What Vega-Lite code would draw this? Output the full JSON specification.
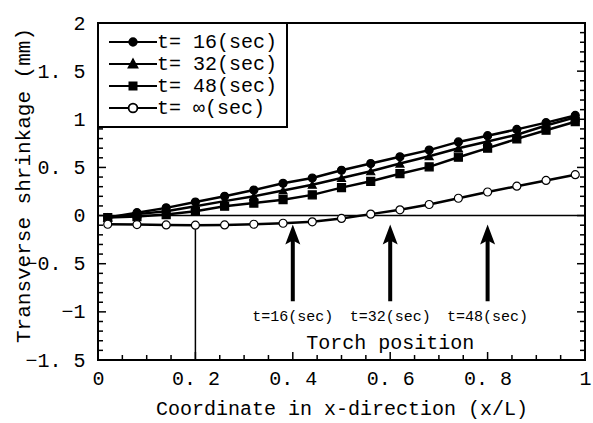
{
  "$schema": "https://vega.github.io/schema/vega-lite/v6.json",
  "width": 487,
  "height": 337,
  "autosize": "none",
  "padding": {"left": 98, "top": 23, "right": 8, "bottom": 63},
  "background": "white",
  "config": {
    "view": {"stroke": "black", "strokeWidth": 2},
    "font": "Liberation Mono",
    "text": {"font": "Liberation Mono", "color": "black"},
    "axis": {"domain": false, "grid": false, "labelColor": "black", "titleColor": "black"}
  },
  "datasets": {
    "curves": [
      {"x": 0.02, "y": -0.02, "s": "t= 16(sec)"}, {"x": 0.08, "y": 0.03, "s": "t= 16(sec)"}, {"x": 0.14, "y": 0.08, "s": "t= 16(sec)"}, {"x": 0.2, "y": 0.14, "s": "t= 16(sec)"}, {"x": 0.26, "y": 0.2, "s": "t= 16(sec)"}, {"x": 0.32, "y": 0.265, "s": "t= 16(sec)"}, {"x": 0.38, "y": 0.335, "s": "t= 16(sec)"}, {"x": 0.44, "y": 0.39, "s": "t= 16(sec)"}, {"x": 0.5, "y": 0.47, "s": "t= 16(sec)"}, {"x": 0.56, "y": 0.54, "s": "t= 16(sec)"}, {"x": 0.62, "y": 0.61, "s": "t= 16(sec)"}, {"x": 0.68, "y": 0.68, "s": "t= 16(sec)"}, {"x": 0.74, "y": 0.765, "s": "t= 16(sec)"}, {"x": 0.8, "y": 0.83, "s": "t= 16(sec)"}, {"x": 0.86, "y": 0.895, "s": "t= 16(sec)"}, {"x": 0.92, "y": 0.965, "s": "t= 16(sec)"}, {"x": 0.98, "y": 1.04, "s": "t= 16(sec)"},
      {"x": 0.02, "y": -0.02, "s": "t= 32(sec)"}, {"x": 0.08, "y": 0.015, "s": "t= 32(sec)"}, {"x": 0.14, "y": 0.045, "s": "t= 32(sec)"}, {"x": 0.2, "y": 0.097, "s": "t= 32(sec)"}, {"x": 0.26, "y": 0.15, "s": "t= 32(sec)"}, {"x": 0.32, "y": 0.2, "s": "t= 32(sec)"}, {"x": 0.38, "y": 0.26, "s": "t= 32(sec)"}, {"x": 0.44, "y": 0.32, "s": "t= 32(sec)"}, {"x": 0.5, "y": 0.39, "s": "t= 32(sec)"}, {"x": 0.56, "y": 0.46, "s": "t= 32(sec)"}, {"x": 0.62, "y": 0.54, "s": "t= 32(sec)"}, {"x": 0.68, "y": 0.616, "s": "t= 32(sec)"}, {"x": 0.74, "y": 0.7, "s": "t= 32(sec)"}, {"x": 0.8, "y": 0.77, "s": "t= 32(sec)"}, {"x": 0.86, "y": 0.84, "s": "t= 32(sec)"}, {"x": 0.92, "y": 0.935, "s": "t= 32(sec)"}, {"x": 0.98, "y": 1.02, "s": "t= 32(sec)"},
      {"x": 0.02, "y": -0.02, "s": "t= 48(sec)"}, {"x": 0.08, "y": -0.01, "s": "t= 48(sec)"}, {"x": 0.14, "y": 0.01, "s": "t= 48(sec)"}, {"x": 0.2, "y": 0.045, "s": "t= 48(sec)"}, {"x": 0.26, "y": 0.097, "s": "t= 48(sec)"}, {"x": 0.32, "y": 0.13, "s": "t= 48(sec)"}, {"x": 0.38, "y": 0.165, "s": "t= 48(sec)"}, {"x": 0.44, "y": 0.215, "s": "t= 48(sec)"}, {"x": 0.5, "y": 0.29, "s": "t= 48(sec)"}, {"x": 0.56, "y": 0.356, "s": "t= 48(sec)"}, {"x": 0.62, "y": 0.435, "s": "t= 48(sec)"}, {"x": 0.68, "y": 0.506, "s": "t= 48(sec)"}, {"x": 0.74, "y": 0.606, "s": "t= 48(sec)"}, {"x": 0.8, "y": 0.7, "s": "t= 48(sec)"}, {"x": 0.86, "y": 0.796, "s": "t= 48(sec)"}, {"x": 0.92, "y": 0.886, "s": "t= 48(sec)"}, {"x": 0.98, "y": 0.975, "s": "t= 48(sec)"},
      {"x": 0.02, "y": -0.09, "s": "t= ∞(sec)"}, {"x": 0.08, "y": -0.093, "s": "t= ∞(sec)"}, {"x": 0.14, "y": -0.097, "s": "t= ∞(sec)"}, {"x": 0.2, "y": -0.1, "s": "t= ∞(sec)"}, {"x": 0.26, "y": -0.097, "s": "t= ∞(sec)"}, {"x": 0.32, "y": -0.09, "s": "t= ∞(sec)"}, {"x": 0.38, "y": -0.08, "s": "t= ∞(sec)"}, {"x": 0.44, "y": -0.065, "s": "t= ∞(sec)"}, {"x": 0.5, "y": -0.03, "s": "t= ∞(sec)"}, {"x": 0.56, "y": 0.015, "s": "t= ∞(sec)"}, {"x": 0.62, "y": 0.06, "s": "t= ∞(sec)"}, {"x": 0.68, "y": 0.115, "s": "t= ∞(sec)"}, {"x": 0.74, "y": 0.18, "s": "t= ∞(sec)"}, {"x": 0.8, "y": 0.245, "s": "t= ∞(sec)"}, {"x": 0.86, "y": 0.305, "s": "t= ∞(sec)"}, {"x": 0.92, "y": 0.365, "s": "t= ∞(sec)"}, {"x": 0.98, "y": 0.425, "s": "t= ∞(sec)"}
    ],
    "torch": [
      {"x": 0.4, "tip": -0.093, "neck": -0.19, "tail": -0.89, "label": "t=16(sec)"},
      {"x": 0.6, "tip": -0.093, "neck": -0.19, "tail": -0.89, "label": "t=32(sec)"},
      {"x": 0.8, "tip": -0.093, "neck": -0.19, "tail": -0.89, "label": "t=48(sec)"}
    ],
    "notes": [
      {"x": 0.6, "y": -1.32, "text": "Torch position"}
    ],
    "guide": [
      {"x": 0.2, "y": -0.1, "y2": -1.5}
    ],
    "xminor": [{"v": 0.05}, {"v": 0.1}, {"v": 0.15}, {"v": 0.25}, {"v": 0.3}, {"v": 0.35}, {"v": 0.45}, {"v": 0.5}, {"v": 0.55}, {"v": 0.65}, {"v": 0.7}, {"v": 0.75}, {"v": 0.85}, {"v": 0.9}, {"v": 0.95}],
    "xmajor": [{"v": 0.2}, {"v": 0.4}, {"v": 0.6}, {"v": 0.8}],
    "yminor": [{"v": -1.4}, {"v": -1.3}, {"v": -1.2}, {"v": -1.1}, {"v": -0.9}, {"v": -0.8}, {"v": -0.7}, {"v": -0.6}, {"v": -0.4}, {"v": -0.3}, {"v": -0.2}, {"v": -0.1}, {"v": 0.1}, {"v": 0.2}, {"v": 0.3}, {"v": 0.4}, {"v": 0.6}, {"v": 0.7}, {"v": 0.8}, {"v": 0.9}, {"v": 1.1}, {"v": 1.2}, {"v": 1.3}, {"v": 1.4}, {"v": 1.6}, {"v": 1.7}, {"v": 1.8}, {"v": 1.9}],
    "ymajor": [{"v": -1}, {"v": -0.5}, {"v": 0}, {"v": 0.5}, {"v": 1}, {"v": 1.5}]
  },
  "layer": [
    {
      "data": {"name": "curves"},
      "mark": {"type": "line", "color": "black", "strokeWidth": 2.5},
      "encoding": {
        "x": {"field": "x", "type": "quantitative",
          "scale": {"domain": [0, 1], "nice": false, "zero": false},
          "axis": {
            "orient": "bottom",
            "values": [0,0.2,0.4,0.6,0.8,1],
            "ticks": false,
            "labelExpr": "replace(format(datum.value, '~g'), '.', '. ')",
            "labelFlush": false, "labelOverlap": false,
            "labelPadding": 8, "labelFont": "Liberation Mono", "labelFontSize": 20,
            "title": "Coordinate in x-direction (x/L)",
            "titleFont": "Liberation Mono", "titleFontSize": 20, "titleFontWeight": "normal",
            "titleY": 54, "titleBaseline": "alphabetic"
          }
        },
        "y": {"field": "y", "type": "quantitative",
          "scale": {"domain": [-1.5, 2], "nice": false, "zero": false},
          "axis": {
            "orient": "left",
            "values": [-1.5,-1,-0.5,0,0.5,1,1.5,2],
            "ticks": false,
            "labelExpr": "replace(format(datum.value, '~g'), '.', '. ')",
            "labelFlush": false, "labelOverlap": false,
            "labelPadding": 13, "labelFont": "Liberation Mono", "labelFontSize": 20,
            "title": "Transverse shrinkage (mm)",
            "titleFont": "Liberation Mono", "titleFontSize": 21, "titleFontWeight": "normal",
            "titleX": -75, "titleY": 162, "titleBaseline": "middle"
          }
        },
        "detail": {"field": "s"}
      }
    },
    {
      "data": {"name": "guide"},
      "mark": {"type": "rule", "color": "black", "strokeWidth": 1.5},
      "encoding": {
        "y": {"datum": 0, "type": "quantitative"}
      }
    },
    {
      "data": {"name": "guide"},
      "mark": {"type": "rule", "color": "black", "strokeWidth": 1.5},
      "encoding": {
        "x": {"field": "x", "type": "quantitative"},
        "y": {"field": "y", "type": "quantitative"},
        "y2": {"field": "y2"}
      }
    },
    {
      "data": {"name": "xminor"},
      "mark": {"type": "tick", "orient": "vertical", "color": "black", "size": 5, "thickness": 1.5, "yOffset": -2.5, "opacity": 1},
      "encoding": {
        "x": {"field": "v", "type": "quantitative"},
        "y": {"datum": -1.5, "type": "quantitative"}
      }
    },
    {
      "data": {"name": "xmajor"},
      "mark": {"type": "tick", "orient": "vertical", "color": "black", "size": 8, "thickness": 1.5, "yOffset": -4, "opacity": 1},
      "encoding": {
        "x": {"field": "v", "type": "quantitative"},
        "y": {"datum": -1.5, "type": "quantitative"}
      }
    },
    {
      "data": {"name": "yminor"},
      "mark": {"type": "tick", "orient": "horizontal", "color": "black", "size": 5, "thickness": 1.5, "xOffset": 2.5, "opacity": 1},
      "encoding": {
        "y": {"field": "v", "type": "quantitative"},
        "x": {"datum": 0, "type": "quantitative"}
      }
    },
    {
      "data": {"name": "ymajor"},
      "mark": {"type": "tick", "orient": "horizontal", "color": "black", "size": 8, "thickness": 1.5, "xOffset": 4, "opacity": 1},
      "encoding": {
        "y": {"field": "v", "type": "quantitative"},
        "x": {"datum": 0, "type": "quantitative"}
      }
    },
    {
      "data": {"name": "yminor"},
      "mark": {"type": "tick", "orient": "horizontal", "color": "black", "size": 5, "thickness": 1.5, "xOffset": -2.5, "opacity": 1},
      "encoding": {
        "y": {"field": "v", "type": "quantitative"},
        "x": {"datum": 1, "type": "quantitative"}
      }
    },
    {
      "data": {"name": "ymajor"},
      "mark": {"type": "tick", "orient": "horizontal", "color": "black", "size": 8, "thickness": 1.5, "xOffset": -4, "opacity": 1},
      "encoding": {
        "y": {"field": "v", "type": "quantitative"},
        "x": {"datum": 1, "type": "quantitative"}
      }
    },
    {
      "data": {"name": "curves"},
      "mark": {"type": "point", "filled": true, "size": 64, "stroke": "black", "strokeWidth": 1.2, "opacity": 1},
      "encoding": {
        "x": {"field": "x", "type": "quantitative"},
        "y": {"field": "y", "type": "quantitative"},
        "shape": {"field": "s", "type": "nominal", "legend": null,
          "scale": {"domain": ["t= 16(sec)", "t= 32(sec)", "t= 48(sec)", "t= ∞(sec)"], "range": ["circle", "triangle-up", "square", "circle"]}},
        "fill": {"field": "s", "type": "nominal", "legend": null,
          "scale": {"domain": ["t= 16(sec)", "t= 32(sec)", "t= 48(sec)", "t= ∞(sec)"], "range": ["black", "black", "black", "white"]}}
      }
    },
    {
      "data": {"name": "curves"},
      "mark": {"type": "point", "filled": true, "opacity": 0, "stroke": "black", "strokeWidth": 2},
      "encoding": {
        "x": {"field": "x", "type": "quantitative"},
        "y": {"field": "y", "type": "quantitative"},
        "shape": {"field": "s", "type": "nominal",
          "scale": {"domain": ["t= 16(sec)", "t= 32(sec)", "t= 48(sec)", "t= ∞(sec)"],
            "range": [
              "M-6,0H6M0.95,0A0.95,0.95,0,1,1,-0.95,0A0.95,0.95,0,1,1,0.95,0Z",
              "M-6,0H6M0,-1.15L1.1,0.9L-1.1,0.9Z",
              "M-6,0H6M-0.9,-0.9H0.9V0.9H-0.9Z",
              "M-6,0H-1.1M1.1,0H6M1.1,0A1.1,1.1,0,1,1,-1.1,0A1.1,1.1,0,1,1,1.1,0Z"
            ]},
          "legend": {
            "title": null, "orient": "top-left", "offset": 0, "padding": 9,
            "fillColor": "white", "strokeColor": "black",
            "symbolSize": 64, "symbolOffset": 16, "labelOffset": 14, "rowPadding": 2,
            "labelFont": "Liberation Mono", "labelFontSize": 20, "labelColor": "black", "labelLimit": 300,
            "symbolStrokeWidth": 1.8, "symbolStrokeColor": "black",
            "encode": {
              "legend": {"update": {"strokeWidth": {"value": 2}}},
              "symbols": {"update": {"opacity": {"value": 1}, "stroke": {"value": "black"}, "strokeWidth": {"value": 1.8}}}
            }
          }
        },
        "fill": {"field": "s", "type": "nominal",
          "scale": {"domain": ["t= 16(sec)", "t= 32(sec)", "t= 48(sec)", "t= ∞(sec)"], "range": ["black", "black", "black", "white"]},
          "legend": {
            "title": null, "orient": "top-left", "offset": 0, "padding": 9,
            "fillColor": "white", "strokeColor": "black",
            "symbolSize": 64, "symbolOffset": 16, "labelOffset": 14, "rowPadding": 2,
            "labelFont": "Liberation Mono", "labelFontSize": 20, "labelColor": "black", "labelLimit": 300,
            "symbolStrokeWidth": 1.8, "symbolStrokeColor": "black",
            "encode": {
              "legend": {"update": {"strokeWidth": {"value": 2}}},
              "symbols": {"update": {"opacity": {"value": 1}, "stroke": {"value": "black"}, "strokeWidth": {"value": 1.8}}}
            }
          }
        }
      }
    },
    {
      "data": {"name": "torch"},
      "mark": {"type": "rule", "color": "black", "strokeWidth": 4, "strokeCap": "butt"},
      "encoding": {
        "x": {"field": "x", "type": "quantitative"},
        "y": {"field": "tail", "type": "quantitative"},
        "y2": {"field": "neck"}
      }
    },
    {
      "data": {"name": "torch"},
      "mark": {"type": "point", "filled": true, "color": "black", "opacity": 1, "size": 400, "strokeWidth": 0,
        "shape": "M0,-1L0.75,1L0,0.6L-0.75,1Z", "yOffset": 10},
      "encoding": {
        "x": {"field": "x", "type": "quantitative"},
        "y": {"field": "tip", "type": "quantitative"}
      }
    },
    {
      "data": {"name": "torch"},
      "mark": {"type": "text", "font": "Liberation Mono", "fontSize": 15, "color": "black", "baseline": "middle", "align": "center", "dy": 15},
      "encoding": {
        "x": {"field": "x", "type": "quantitative"},
        "y": {"field": "tail", "type": "quantitative"},
        "text": {"field": "label"}
      }
    },
    {
      "data": {"name": "notes"},
      "mark": {"type": "text", "font": "Liberation Mono", "fontSize": 20, "color": "black", "baseline": "middle", "align": "center"},
      "encoding": {
        "x": {"field": "x", "type": "quantitative"},
        "y": {"field": "y", "type": "quantitative"},
        "text": {"field": "text"}
      }
    }
  ],
  "resolve": {"scale": {"shape": "independent", "fill": "independent"}}
}
